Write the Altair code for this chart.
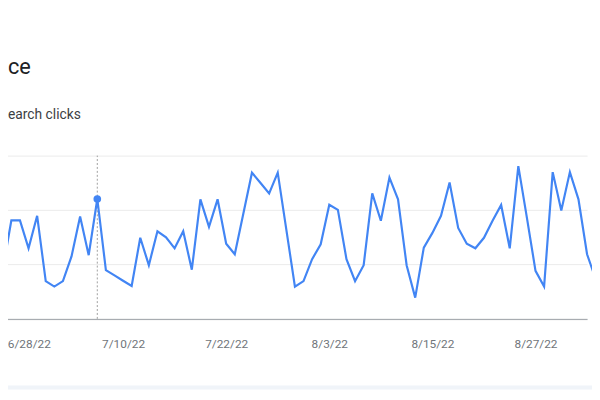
import altair as alt
import pandas as pd

# Daily total search clicks, 2022-06-25 .. 2022-09-03
clicks = [21.5, 27.1, 54.3, 54.3, 38.9, 56.8, 20.8, 17.8, 20.8, 34.4,
          56.4, 35.1, 66.1, 26.9, 24.0, 21.0, 18.1, 44.7, 29.6, 48.3,
          45.0, 38.9, 48.3, 27.1, 65.9, 50.7, 65.9, 41.4, 35.6, 58.1,
          80.6, 74.9, 69.2, 80.6, 49.2, 17.8, 20.8, 32.9, 41.1, 62.9,
          60.1, 32.9, 20.8, 29.6, 69.2, 54.1, 77.9, 65.9, 29.6, 11.7,
          39.3, 47.4, 56.8, 75.2, 50.1, 41.4, 38.9, 44.7, 54.1, 62.8,
          38.9, 84.2, 55.7, 26.5, 17.8, 80.9, 59.7, 80.9, 65.9, 35.6,
          22.0]
start_date = "2022-06-25"
dates = pd.date_range(start_date, periods=len(clicks), freq="D").strftime("%Y-%m-%d").tolist()

tick_dates = ["2022-06-28", "2022-07-10", "2022-07-22", "2022-08-03", "2022-08-15", "2022-08-27"]
hover_date = "2022-07-07"
grid_values = [0, 30, 60, 90]
# visible (cropped) parts of the card title and the metric label
title_text = "ce"
subtitle_text = "earch clicks"

df = pd.DataFrame({
    "date": dates,
    "clicks": clicks,
    "hover": [d == hover_date for d in dates],
})


def utc(s):
    y, m, d = map(int, s.split("-"))
    return alt.DateTime(year=y, month=m, date=d, utc=True)


x_scale = alt.Scale(type="utc", domain=[utc("2022-06-26"), utc("2022-09-02")], range=[-5.3, 587])
y_scale = alt.Scale(domain=[0, 90], range=[312.5, 147])

BLUE = "#4285f4"

base = alt.Chart(df)

x_enc = alt.X(
    "date:T",
    scale=x_scale,
    axis=alt.Axis(
        values=[utc(d) for d in tick_dates],
        format="%-m/%-d/%y",
        title=None,
        grid=False,
        ticks=False,
        tickSize=0,
        domain=True,
        domainColor="#9aa0a6",
        domainWidth=1,
        labelFont="Roboto",
        labelFontSize=12,
        labelColor="#70757a",
        labelPadding=29,
        labelBaseline="alphabetic",
        labelFlush=False,
        labelOverlap=False,
        labelBound=False,
        labelOffset={"condition": {"test": "datum.value < utc(2022, 5, 30)", "value": 9}, "value": 0},
    ),
)
y_enc = alt.Y(
    "clicks:Q",
    scale=y_scale,
    axis=alt.Axis(
        values=grid_values,
        labels=False,
        ticks=False,
        domain=False,
        title=None,
        grid=True,
        gridColor="#ebebeb",
        gridWidth=1,
    ),
)

line = base.mark_line(color=BLUE, strokeWidth=2.2, clip=True).encode(x=x_enc, y=y_enc)

hover_rule = base.transform_filter(alt.datum.hover).mark_rule(
    color="#9e9e9e", strokeDash=[2, 2], strokeWidth=1
).encode(
    x=alt.X("date:T", scale=x_scale),
    y=alt.datum(0),
    y2=alt.datum(90),
)

dot = base.transform_filter(alt.datum.hover).mark_circle(
    color=BLUE, size=60, opacity=1
).encode(x=alt.X("date:T", scale=x_scale), y=alt.Y("clicks:Q", scale=y_scale))

one = alt.Data(values=[{}])

title = alt.Chart(one).mark_text(
    text=title_text, align="left", baseline="alphabetic",
    font="Roboto", fontSize=22, color="#202124"
).encode(x=alt.value(0), y=alt.value(64))

subtitle = alt.Chart(one).mark_text(
    text=subtitle_text, align="left", baseline="alphabetic",
    font="Roboto", fontSize=14, color="#3c4043"
).encode(x=alt.value(0), y=alt.value(110))

band = alt.Chart(one).mark_rect(color="#f0f4f9").encode(
    x=alt.value(0), x2=alt.value(592), y=alt.value(380), y2=alt.value(384)
)

chart = alt.layer(band, hover_rule, line, dot, title, subtitle).properties(
    width=592,
    height=312.5,
    autosize=alt.AutoSizeParams(type="none"),
    padding={"left": 0, "top": 0, "right": 0, "bottom": 71.5},
    background="white",
).configure_view(strokeWidth=0)

chart.save("out.html", embed_options={"renderer": "svg", "actions": False})
